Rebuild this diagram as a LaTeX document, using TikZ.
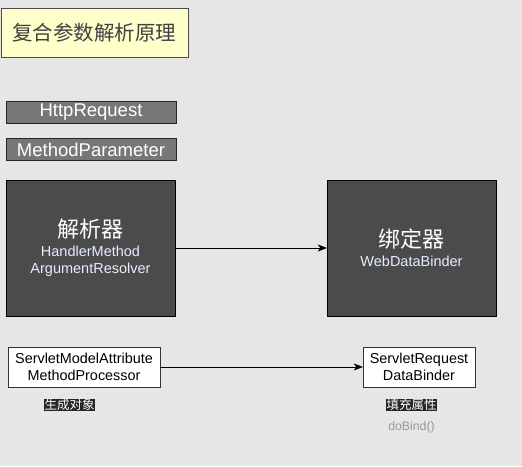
\documentclass[tikz,border=0pt]{standalone}
\usepackage{fontspec}
\setmainfont{Liberation Sans}
\newfontfamily\cjk{Noto Sans CJK SC}
\usetikzlibrary{arrows.meta,positioning}
\definecolor{bgcol}{HTML}{E6E6E6}
\definecolor{titlefill}{HTML}{FFFFCC}
\definecolor{tagfill}{HTML}{777777}
\definecolor{darkfill}{HTML}{4B4B4B}
\definecolor{subtext}{HTML}{E4EEFF}
\tikzset{
titlebox/.style = {draw=black!70, fill=titlefill, rectangle, minimum width=187pt, minimum height=49pt, inner sep=0pt, font=\cjk\fontsize{20.5}{24}\selectfont, text=black!75},
tagbox/.style = {draw=black!85, fill=tagfill, rectangle, minimum width=170pt, minimum height=22pt, inner sep=0pt, font=\fontsize{18.5}{21}\selectfont, text=white},
bigblock/.style = {draw=black, fill=darkfill, rectangle, align=center, minimum width=169pt, minimum height=136pt, inner sep=0pt, font=\fontsize{14.5}{17}\selectfont, text=subtext},
block/.style = {draw=black!80, fill=white, rectangle, align=center, minimum height=40pt, inner sep=0pt, font=\fontsize{14.4}{16.5}\selectfont},
note/.style = {fill=black!85, text=white, inner sep=0.5pt, font=\cjk\fontsize{12.5}{14}\selectfont}
}

\begin{document}
\begin{tikzpicture}[x=1pt, y=-1pt, >={Stealth[length=9pt, width=7pt, inset=2.5pt]}]
    \fill[bgcol] (0,0) rectangle (522,466);

    \node[titlebox] (title) at (94.5,32.5) {复合参数解析原理};
    \node[tagbox] (req) at (91,112) {HttpRequest};
    \node[tagbox, below=15pt of req] (param) {MethodParameter};

    \node[bigblock] (resolver) at (90.5,248) {{\cjk\fontsize{22}{26}\selectfont\color{white}解析器}\\[2pt]HandlerMethod\\ArgumentResolver};
    \node[bigblock] (binder) at (411.5,248) {{\cjk\fontsize{22}{26}\selectfont\color{white}绑定器}\\[2pt]WebDataBinder};

    \draw[->] (resolver) -- (binder);

    \node[block, minimum width=152pt] (proc) at (84,367) {ServletModelAttribute\\MethodProcessor};
    \node[block, minimum width=112pt] (dbinder) at (419,367) {ServletRequest\\DataBinder};

    \draw[->] (proc) -- (dbinder);

    \node[note] (create) at (69.5,405) {生成对象};
    \node[note] (fill) at (411.5,405) {填充属性};
    \node[text=black!40, font=\fontsize{12.3}{14}\selectfont, below=7pt of fill] (dobind) {doBind()};
\end{tikzpicture}
\end{document}
